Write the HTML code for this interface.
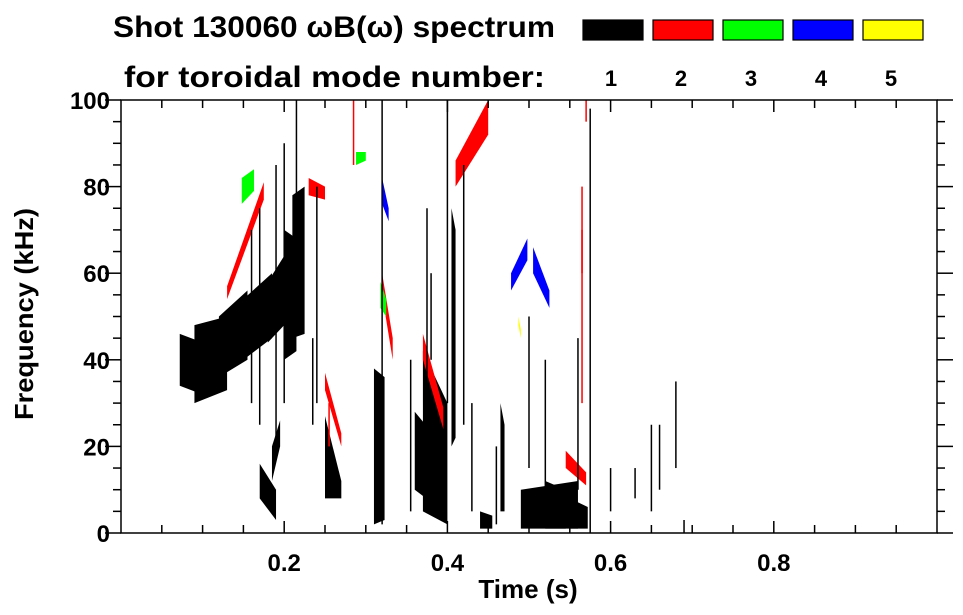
<!DOCTYPE html>
<html><head><meta charset="utf-8"><style>
body{margin:0;background:#fff}
svg{display:block;font-family:"Liberation Sans",sans-serif;font-weight:bold}
</style></head><body>
<svg id="chart" width="963" height="615">
<g>
<text x="113" y="37" font-size="30" textLength="442" lengthAdjust="spacingAndGlyphs">Shot 130060 ωB(ω) spectrum</text>
<text x="124" y="87" font-size="30" textLength="421" lengthAdjust="spacingAndGlyphs">for toroidal mode number:</text>
</g>
<g id="legend"></g>
<g id="marks"></g>
<g id="axes"></g>
<text x="528" y="598" font-size="26" text-anchor="middle">Time (s)</text>
<text transform="translate(33,314) rotate(-90)" font-size="26" text-anchor="middle" textLength="212" lengthAdjust="spacingAndGlyphs">Frequency (kHz)</text>
</svg>
<script>
// mode colours / legend
const modeNums=[1,2,3,4,5];
const modeColors=['#000','#f00','#0f0','#00f','#ff0'];
const xTicks=[0.2,0.4,0.6,0.8];
const yTicks=[0,20,40,60,80,100];
// blobs: time start/end, freq low/high at start, freq low/high at end, mode
const bT0=[0.072,0.09,0.12,0.15,0.18,0.2,0.21,0.17,0.185,0.25,0.31,0.36,0.37,0.44,0.49,0.52,0.55,0.405,0.465,0.13,0.23,0.25,0.32,0.37,0.41,0.545,0.148,0.288,0.318,0.32,0.478,0.505,0.487];
const bT1=[0.1,0.13,0.155,0.185,0.2,0.215,0.225,0.19,0.195,0.27,0.323,0.395,0.4,0.455,0.56,0.545,0.572,0.41,0.47,0.175,0.25,0.27,0.333,0.395,0.45,0.57,0.163,0.3,0.325,0.328,0.498,0.525,0.49];
const bLo0=[34,30,36,40,44,40,45,8,12,8,2,10,5,1,1,1,1,20,5,54,78,33,55,40,80,15,76,85,52,76,56,60,48];
const bHi0=[46,48,50,54,58,70,78,16,20,27,38,28,42,5,10,12,8,75,30,57,82,37,60,46,86,19,82,88,58,82,60,66,50];
const bLo1=[32,33,40,45,48,42,46,3,20,8,3,5,2,1,1,1,1,22,5,77,77,20,40,24,92,11,79,86,50,72,63,52,45];
const bHi1=[44,50,56,60,64,68,80,10,26,12,36,20,30,4,12,10,6,70,25,81,80,23,45,29,100,14,84,88,54,75,68,56,47];
const bMode=[1,1,1,1,1,1,1,1,1,1,1,1,1,1,1,1,1,1,1,2,2,2,2,2,2,2,3,3,3,4,4,4,5];
// thin vertical lines: time, f low, f high, mode
const lT=[0.16,0.17,0.19,0.2,0.215,0.235,0.24,0.32,0.355,0.375,0.38,0.4,0.42,0.43,0.46,0.5,0.52,0.56,0.575,0.6,0.63,0.65,0.66,0.68,0.255,0.565,0.285,0.565,0.57,0.69];
const lLo=[30,25,20,30,60,25,30,2,5,20,40,30,25,5,2,15,10,10,0,5,8,5,10,15,20,30,85,60,95,0];
const lHi=[70,75,85,90,100,45,80,100,40,75,60,100,85,30,20,50,40,45,98,15,15,25,25,35,30,70,100,80,100,3];
const lMode=[1,1,1,1,1,1,1,1,1,1,1,1,1,1,1,1,1,1,1,1,1,1,1,1,2,2,2,2,2,1];

const L=121,R=937,T=100,B=533;
const xs=t=>L+(t-0)/(1-0)*(R-L);
const ys=f=>B-(f-0)/100*(B-T);
const NS='http://www.w3.org/2000/svg';
function mk(tag,at,parent){const e=document.createElementNS(NS,tag);for(const k in at)e.setAttribute(k,at[k]);parent.appendChild(e);return e;}

const leg=document.getElementById('legend');
modeNums.forEach((m,i)=>{
  const x=583+i*70;
  const r=mk('rect',{x:x,y:20,width:60,height:20,fill:modeColors[i],stroke:'#000','stroke-width':1.2},leg);
  
  
  const t=mk('text',{x:x+28,y:86,'font-size':22,'text-anchor':'middle'},leg);
  t.textContent=m;
  
  
});

const marks=document.getElementById('marks');
bT0.forEach((t0,i)=>{
  const t1=bT1[i];
  const pts=[[xs(t0),ys(bLo0[i])],[xs(t0),ys(bHi0[i])],[xs(t1),ys(bHi1[i])],[xs(t1),ys(bLo1[i])]].map(p=>p.join(',')).join(' ');
  const p=mk('polygon',{points:pts,fill:modeColors[bMode[i]-1]},marks);
  
  
});
lT.forEach((t,i)=>{
  const l=mk('line',{x1:xs(t),x2:xs(t),y1:ys(lLo[i]),y2:ys(lHi[i]),stroke:modeColors[lMode[i]-1],'stroke-width':1.5},marks);
  
  
});

const ax=document.getElementById('axes');
const frame=mk('rect',{x:L,y:T,width:R-L,height:B-T,fill:'none',stroke:'#000','stroke-width':1.5},ax);


for(let f=0;f<=100;f+=5){
  const major=f%20===0, y=ys(f);
  mk('line',{x1:L-(major?16:8),x2:L,y1:y,y2:y,stroke:'#000','stroke-width':1.5},ax);
  mk('line',{x1:R,x2:R+(major?16:8),y1:y,y2:y,stroke:'#000','stroke-width':1.5},ax);
}
for(let t=0.05;t<1;t+=0.05){
  const major=Math.abs(t*10-Math.round(t*10))<1e-6 && Math.round(t*10)%2===0, x=xs(t);
  mk('line',{x1:x,x2:x,y1:B,y2:B-(major?12:8),stroke:'#000','stroke-width':1.5},ax);
  mk('line',{x1:x,x2:x,y1:T,y2:T+(major?12:8),stroke:'#000','stroke-width':1.5},ax);
}
yTicks.forEach(v=>{
  const t=mk('text',{x:110,y:ys(v)+9,'font-size':24,'text-anchor':'end'},ax);
  t.textContent=v;
  
  
});
xTicks.forEach(v=>{
  const t=mk('text',{x:xs(v),y:571,'font-size':24,'text-anchor':'middle'},ax);
  t.textContent=v;
  
  
});
</script>
</body></html>
